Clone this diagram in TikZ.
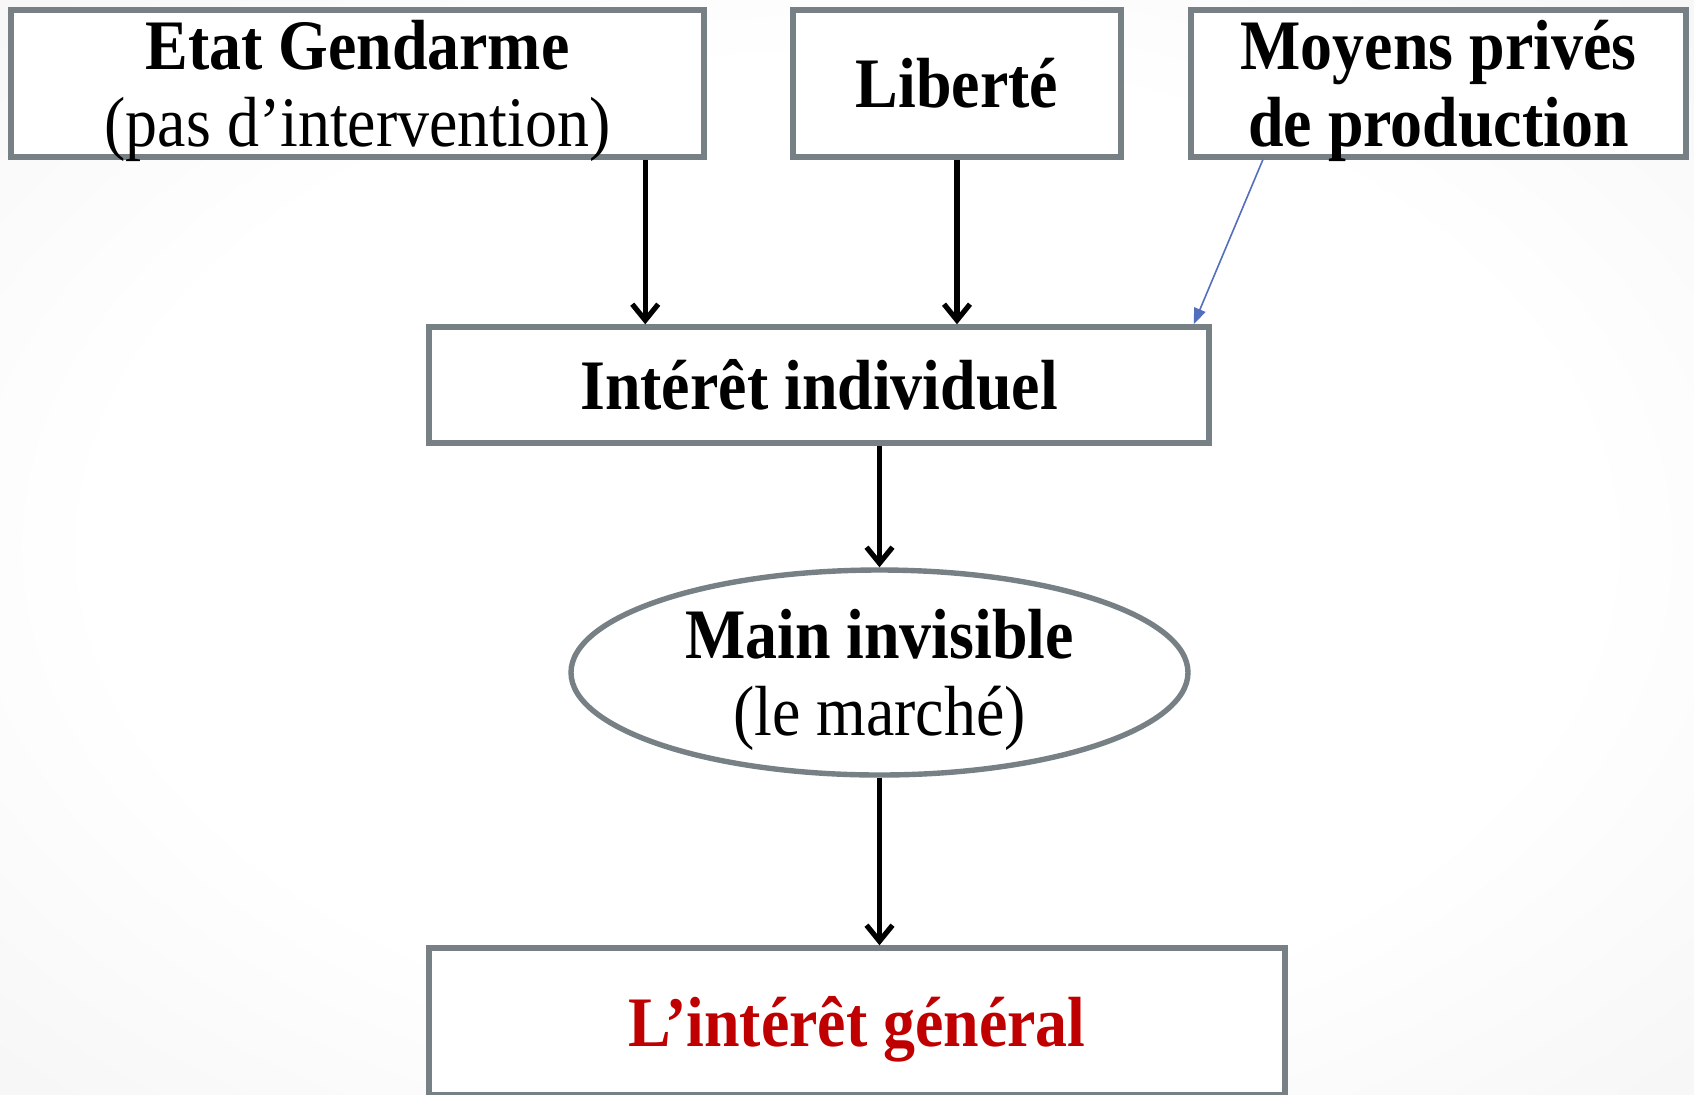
\documentclass[tikz,border=0pt]{standalone}
\usepackage{fontspec}
\setmainfont{Liberation Serif}[FakeStretch=0.9]
\usetikzlibrary{arrows.meta,calc,shapes.geometric}

\definecolor{boxgray}{RGB}{118,128,133}
\definecolor{arrblue}{RGB}{84,110,190}
\definecolor{darkred}{RGB}{192,0,0}
\pgfdeclareradialshading{bgshade}{\pgfpoint{0bp}{0bp}}{color(0bp)=(white); color(22bp)=(white); color(50bp)=(black!7); color(71bp)=(black!15)}

\tikzset{
  box/.style={rectangle, draw=boxgray, line width=2.7pt, fill=white, inner sep=0pt, align=center},
  oval/.style={ellipse, draw=boxgray, line width=2.7pt, fill=white, inner sep=0pt, align=center},
  arr/.style={line width=2.6pt, -{Straight Barb[length=8pt,width=13pt]}},
  thinarr/.style={draw=arrblue, line width=0.8pt, -{Triangle[length=8pt,width=6pt]}}
}

\begin{document}
\begin{tikzpicture}[x=0.5pt, y=-0.5pt, every node/.style={font=\fontsize{35.5}{38.5}\selectfont}]

\useasboundingbox (0,0) rectangle (1694,1094);
\shade[shading=bgshade] (0,0) rectangle (1694,1094);

% top row
\node[box, minimum width=346.5pt, minimum height=73.5pt, text depth=0pt] (etat) at (357.5,83.5) {\textbf{Etat Gendarme}\\(pas d’intervention)};
\node[box, minimum width=164pt, minimum height=73.5pt] (liberte) at (957,83.5) {\textbf{Liberté}};
\node[box, minimum width=247.5pt, minimum height=73.5pt, text depth=0pt] (moyens) at (1438.5,83.5) {\textbf{Moyens privés}\\\textbf{de production}};

% middle
\node[box, minimum width=390pt, minimum height=58pt] (indiv) at (819,385) {\textbf{Intérêt individuel}};
\node[oval, minimum width=308.5pt, minimum height=102.5pt, text depth=-1.5pt] (main) at (879.5,672.5) {\textbf{Main invisible}\\(le marché)};

% bottom
\node[box, minimum width=428pt, minimum height=73.5pt, text depth=0pt] (general) at (857,1021.5) {\textcolor{darkred}{\textbf{L’intérêt général}}};

% connectors
\draw[arr] ($(etat.south west)!.912!(etat.south east)$) coordinate (a1) -- (a1 |- indiv.north);
\draw[arr] (liberte.south) -- (liberte.south |- indiv.north);
\draw[thinarr] ($(moyens.south west)!.149!(moyens.south east)$) -- ([xshift=-9pt]indiv.north east);
\draw[arr] (main.north |- indiv.south) -- (main.north);
\draw[arr] (main.south) -- (main.south |- general.north);

\end{tikzpicture}
\end{document}
